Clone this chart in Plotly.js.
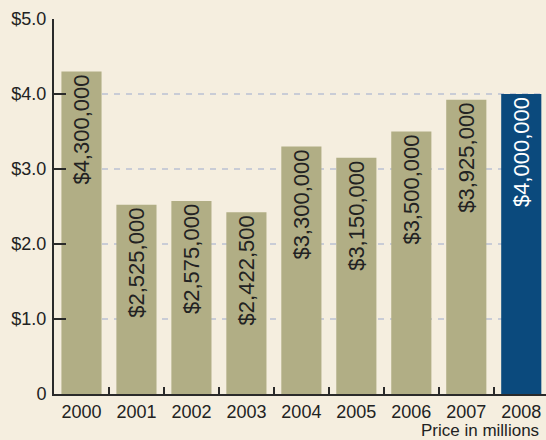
<!DOCTYPE html>
<html>
<head>
<meta charset="utf-8">
<script src="https://cdn.plot.ly/plotly-3.0.1.min.js"></script>
<style>html,body{margin:0;padding:0;background:#f5eedf;}#chart{width:546px;height:440px;}</style>
</head>
<body>
<div id="chart"></div>
<script>
const years = ["2000","2001","2002","2003","2004","2005","2006","2007","2008"];
const prices = [4.3, 2.525, 2.575, 2.4225, 3.3, 3.15, 3.5, 3.925, 4.0];
const priceLabels = ["$4,300,000","$2,525,000","$2,575,000","$2,422,500","$3,300,000","$3,150,000","$3,500,000","$3,925,000","$4,000,000"];
const yTickVals = [0, 1, 2, 3, 4, 5];
const yTickText = ["0", "$1.0", "$2.0", "$3.0", "$4.0", "$5.0"];

const olive = "#b1ae85", navy = "#0b4a7d";
const colors = years.map((y, i) => i === years.length - 1 ? navy : olive);
const textColors = years.map((y, i) => i === years.length - 1 ? "#ffffff" : "#222222");

const trace = {
  type: "bar",
  x: years,
  y: prices,
  text: priceLabels,
  textposition: "inside",
  insidetextanchor: "end",
  textangle: -90,
  textfont: {family: "Liberation Sans, Arial, sans-serif", size: 22, color: textColors},
  marker: {color: colors, line: {width: 0}},
  width: 0.73,
  hoverinfo: "none",
  cliponaxis: false
};

const layout = {
  width: 546, height: 440,
  paper_bgcolor: "#f5eedf",
  plot_bgcolor: "#f5eedf",
  margin: {l: 54, r: 0, t: 19, b: 46, pad: 0},
  font: {family: "Liberation Sans, Arial, sans-serif", size: 18, color: "#222222"},
  showlegend: false,
  bargap: 0.27,
  xaxis: {
    type: "category",
    range: [-0.5, 8.45],
    showline: true, linecolor: "#2a2a2a", linewidth: 2,
    ticks: "inside", tickson: "boundaries", ticklen: 7, tickwidth: 1.5, tickcolor: "#2a2a2a",
    showgrid: false, zeroline: false,
    tickfont: {size: 18, color: "#222222"},
    ticklabelstandoff: 0,
    fixedrange: true
  },
  yaxis: {
    range: [0, 5],
    tickvals: yTickVals, ticktext: yTickText,
    showline: true, linecolor: "#2a2a2a", linewidth: 2,
    ticks: "inside", ticklen: 12, tickwidth: 2, tickcolor: "#2a2a2a",
    showgrid: true, gridcolor: "#c9ccd6", gridwidth: 1.5, griddash: "6px,6px",
    zeroline: false,
    tickfont: {size: 18, color: "#222222"},
    ticklabelstandoff: 2,
    fixedrange: true
  },
  annotations: [{
    text: "Price in millions",
    xref: "paper", yref: "paper",
    x: 1, y: 0, xanchor: "right", yanchor: "middle",
    xshift: -5, yshift: -36,
    showarrow: false,
    font: {size: 17, color: "#222222"}
  }]
};

Plotly.newPlot("chart", [trace], layout, {displayModeBar: false, staticPlot: true});
</script>
</body>
</html>
